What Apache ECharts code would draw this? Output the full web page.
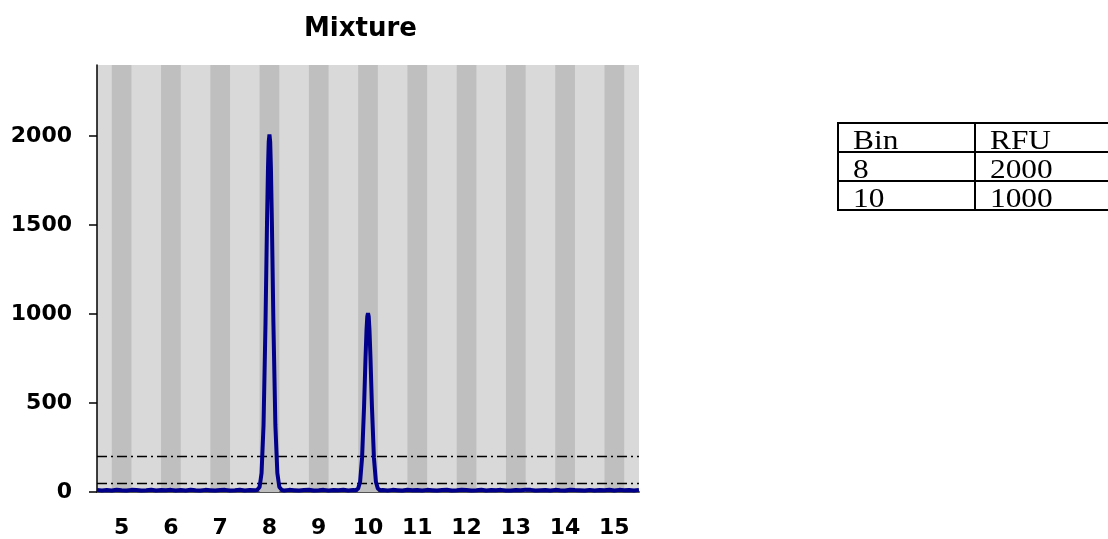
<!DOCTYPE html>
<html>
<head>
<meta charset="utf-8">
<script src="https://cdn.jsdelivr.net/npm/echarts@6/dist/echarts.min.js"></script>
<style>
  html, body { margin: 0; padding: 0; background: #fff; overflow: hidden; width: 1108px; height: 539px; }
  #chart { position: absolute; left: 0; top: 0; width: 1108px; height: 539px; }
  #tbl { position: absolute; left: 837px; top: 122px; border-collapse: collapse; table-layout: fixed; width: 320px;
         font-family: 'Liberation Serif', 'Times New Roman', serif; font-size: 28px; color: #000; }
  #tbl td { border: 2px solid #000; height: 27px; padding: 0 0 0 14px; line-height: 22px; vertical-align: bottom; white-space: nowrap; overflow: visible; }
  #tbl td.c1 { width: 121px; }
  #tbl td.c2 { width: 170px; }
  #tbl span { display: inline-block; transform: scaleX(1.12); transform-origin: left center; }
</style>
</head>
<body>
<div id="chart"></div>
<table id="tbl"></table>
<script>
// ---- data ----
const chartTitle = 'Mixture';
const binTicks = [5, 6, 7, 8, 9, 10, 11, 12, 13, 14, 15];
const rfuTicks = [0, 500, 1000, 1500, 2000];
const thresholds = [200, 50];

const baseAX = [4.5,4.6,4.7,4.8,4.9,5.0,5.1,5.2,5.3,5.4,5.5,5.6,5.7,5.8,5.9,6.0,6.1,6.2,6.3,6.4,6.5,6.6,6.7,6.8,6.9,7.0,7.1,7.2,7.3,7.4,7.5,7.6,7.7];
const baseAY = [12,9,11,8,13,10,9,12,11,8,10,13,9,11,10,12,8,11,9,13,10,9,12,10,8,11,12,9,10,13,9,11,10];
const peak8X = [7.75,7.8,7.84,7.88,7.92,7.95,7.97,7.985,8.0,8.015,8.03,8.05,8.08,8.12,8.16,8.2,8.25];
const peak8Y = [11,28,107,377,953,1505,1817,1967,2010,1967,1817,1505,953,377,107,28,11];
const baseBX = [8.3,8.4,8.5,8.6,8.7,8.8,8.9,9.0,9.1,9.2,9.3,9.4,9.5,9.6,9.7];
const baseBY = [9,12,10,8,11,13,9,10,12,8,11,10,13,9,11];
const peak10X = [9.75,9.8,9.84,9.88,9.92,9.95,9.97,9.985,10.0,10.015,10.03,10.05,10.08,10.12,10.16,10.2,10.25];
const peak10Y = [10,19,58,193,480,755,910,985,1005,985,910,755,480,193,58,19,10];
const baseCX = [10.3,10.4,10.5,10.6,10.7,10.8,10.9,11.0,11.1,11.2,11.3,11.4,11.5,11.6,11.7,11.8,11.9,12.0,12.1,12.2,12.3,12.4,12.5,12.6,12.7,12.8,12.9,13.0,13.1,13.2,13.3,13.4,13.5,13.6,13.7,13.8,13.9,14.0,14.1,14.2,14.3,14.4,14.5,14.6,14.7,14.8,14.9,15.0,15.1,15.2,15.3,15.4,15.5];
const baseCY = [11,9,12,10,8,13,10,11,9,12,10,8,11,13,9,10,12,11,8,10,13,9,11,10,12,9,8,11,10,13,12,9,10,11,8,12,10,9,13,11,10,8,12,9,11,10,13,9,12,10,11,8,12];

const tableHeader = ['Bin', 'RFU'];
const tableBins = ['8', '10'];
const tableRfu = ['2000', '1000'];

// ---- build ----
const xs = [].concat(baseAX, peak8X, baseBX, peak10X, baseCX);
const ys = [].concat(baseAY, peak8Y, baseBY, peak10Y, baseCY);
const curve = xs.map((x, i) => [x, ys[i]]);

const tbl = document.getElementById('tbl');
const rows = [tableHeader].concat(tableBins.map((b, i) => [b, tableRfu[i]]));
rows.forEach(r => {
  const tr = document.createElement('tr');
  r.forEach((c, j) => {
    const td = document.createElement('td');
    td.className = j === 0 ? 'c1' : 'c2';
    const sp = document.createElement('span');
    sp.textContent = c;
    td.appendChild(sp);
    tr.appendChild(td);
  });
  tbl.appendChild(tr);
});

const labelFont = { fontFamily: 'DejaVu Sans', fontWeight: 'bold', fontSize: 22, color: '#000' };

const chart = echarts.init(document.getElementById('chart'), null, { renderer: 'canvas' });
chart.setOption({
  animation: false,
  backgroundColor: '#fff',
  title: {
    text: chartTitle, left: 299, top: 11,
    textStyle: { fontFamily: 'DejaVu Sans', fontWeight: 'bold', fontSize: 26, color: '#000' }
  },
  grid: { left: 97, top: 65, width: 542, height: 428.5, show: true, backgroundColor: '#d9d9d9', borderWidth: 0 },
  xAxis: {
    type: 'value', min: 4.5, max: 15.5,
    axisLine: { show: true, lineStyle: { color: '#555', width: 2 } },
    axisTick: { show: false },
    splitLine: { show: false },
    axisLabel: Object.assign({ customValues: binTicks, margin: 25, formatter: v => String(v) }, labelFont)
  },
  yAxis: {
    type: 'value', min: 0, max: 2400,
    axisLine: { show: true, lineStyle: { color: '#000', width: 1.5 } },
    axisTick: { show: true, length: 8, customValues: rfuTicks, lineStyle: { color: '#000', width: 1.5 } },
    splitLine: { show: false },
    axisLabel: Object.assign({ customValues: rfuTicks, margin: 25, formatter: v => String(v) }, labelFont)
  },
  series: [
    {
      type: 'line', data: [], z: 1, silent: true,
      markArea: {
        silent: true,
        itemStyle: { color: '#bfbfbf' },
        data: binTicks.map(b => [{ xAxis: b - 0.2 }, { xAxis: b + 0.2 }])
      },
      markLine: {
        silent: true, symbol: 'none', label: { show: false },
        lineStyle: { color: '#000', width: 1.3, type: [10, 4, 2, 4] },
        data: thresholds.map(v => ({ yAxis: v }))
      }
    },
    {
      type: 'line', data: curve, z: 10, showSymbol: false, silent: true,
      lineStyle: { color: '#00008b', width: 4 }
    }
  ]
});
</script>
</body>
</html>
